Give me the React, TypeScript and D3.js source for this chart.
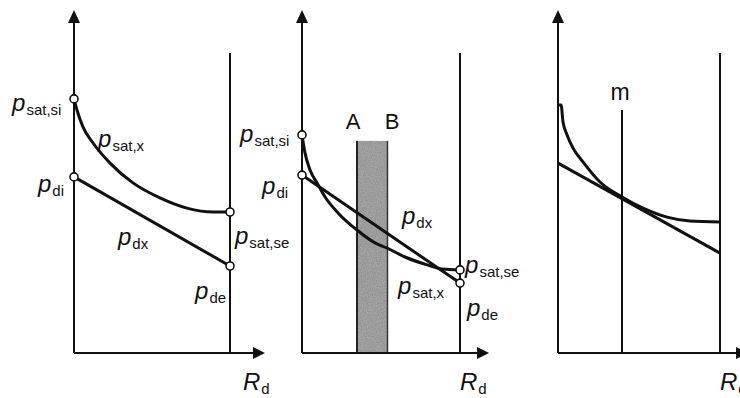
import React from 'react';
import * as d3 from 'd3';

const W = 740;
const H = 398;
const FONT = '"Liberation Sans", Arial, sans-serif';

// shared vertical scale: p (relative units)
const P_DOMAIN = [0, 100];
const Y_RANGE = [353, 53];
const AXIS_TOP = 114.3; // arrow tip of p axis (units)

// ---------- Panel 1 ----------
const p1SatR = [0, 1.9, 5.8, 12.2, 23.1, 37.8, 55.1, 72.4, 89.1, 100];
const p1SatP = [84.7, 81, 75.3, 70, 63.3, 56.7, 51.7, 48.3, 47, 47];
const p1DxR = [0, 100];
const p1DxP = [58.7, 29];
const p1Circles = [[0, 84.7], [0, 58.7], [100, 47], [100, 29]];
const p1Labels = [
  { main: 'p', sub: 'sat,si', r: -39.7, p: 80.7 },
  { main: 'p', sub: 'sat,x', r: 15.4, p: 68.7 },
  { main: 'p', sub: 'di', r: -23.1, p: 53.7 },
  { main: 'p', sub: 'dx', r: 28.2, p: 36 },
  { main: 'p', sub: 'sat,se', r: 103.2, p: 36.3 },
  { main: 'p', sub: 'de', r: 77.6, p: 18 },
  { main: 'R', sub: 'd', r: 108.3, p: -12.3 },
];

// ---------- Panel 2 ----------
const p2SatR = [0, 1.9, 5.1, 9.5, 14.6, 22.8, 34.8, 46.2, 53.8, 65.2, 79.7, 88.6, 100];
const p2SatP = [72.7, 66.7, 61, 56.7, 52, 46.7, 41, 36.7, 35, 32, 29.3, 28, 27.7];
const p2DxR = [0, 100];
const p2DxP = [59.3, 23.3];
const p2Circles = [[0, 72.7], [0, 59.3], [100, 27.7], [100, 23.3]];
const p2Band = { a: 34.8, b: 54.1, top: 70.7 };
const p2Labels = [
  { main: 'p', sub: 'sat,si', r: -39.2, p: 70.3 },
  { main: 'p', sub: 'di', r: -25.3, p: 53 },
  { main: 'p', sub: 'dx', r: 63.3, p: 43 },
  { main: 'p', sub: 'sat,se', r: 103.2, p: 26.7 },
  { main: 'p', sub: 'sat,x', r: 60.8, p: 19.7 },
  { main: 'p', sub: 'de', r: 104.4, p: 12.3 },
  { main: 'R', sub: 'd', r: 100, p: -12.3 },
];
const p2Letters = [
  { t: 'A', r: 32.3, p: 74.7 },
  { t: 'B', r: 57, p: 74.7 },
];

// ---------- Panel 3 ----------
const p3SatR = [0, 1.9, 3.1, 5.6, 9.3, 15.4, 25.9, 39.5, 52.5, 67.3, 81.5, 100];
const p3SatP = [82.7, 82.7, 77, 72.7, 68.3, 63.7, 57, 52, 48.3, 45.3, 44, 43.7];
const p3DxR = [0, 100];
const p3DxP = [63.3, 33.3];
const p3M = { r: 39.5, top: 81 };
const p3Labels = [{ main: 'R', sub: 'd', r: 100, p: -12.3 }];

const panels = [
  { x0: 74, x1: 230, tip: 122.4, sat: [p1SatR, p1SatP], dx: [p1DxR, p1DxP], circles: p1Circles, labels: p1Labels },
  { x0: 302, x1: 460, tip: 118.4, sat: [p2SatR, p2SatP], dx: [p2DxR, p2DxP], circles: p2Circles, labels: p2Labels, band: p2Band, letters: p2Letters },
  { x0: 558, x1: 720, tip: 117.3, sat: [p3SatR, p3SatP], dx: [p3DxR, p3DxP], circles: [], labels: p3Labels, m: p3M },
];

const y = d3.scaleLinear().domain(P_DOMAIN).range(Y_RANGE);

function Panel({ cfg }: { cfg: any }) {
  const x = d3.scaleLinear().domain([0, 100]).range([cfg.x0, cfg.x1]);
  const line = d3
    .line<[number, number]>()
    .x((d) => x(d[0]))
    .y((d) => y(d[1]))
    .curve(d3.curveMonotoneX);
  const satPts: [number, number][] = cfg.sat[0].map((r: number, i: number) => [r, cfg.sat[1][i]]);
  const dxPts: [number, number][] = cfg.dx[0].map((r: number, i: number) => [r, cfg.dx[1][i]]);
  const ax = x(0);
  const by = y(0);
  const tipY = y(AXIS_TOP);
  const tipX = x(cfg.tip);
  return (
    <g>
      {cfg.band && (
        <g>
          <rect
            x={x(cfg.band.a)}
            y={y(cfg.band.top)}
            width={x(cfg.band.b) - x(cfg.band.a)}
            height={by - y(cfg.band.top)}
            fill="#939393"
            filter="url(#grain)"
          />
          <line x1={x(cfg.band.a)} x2={x(cfg.band.a)} y1={y(cfg.band.top)} y2={by} stroke="#222" strokeWidth={2} />
          <line x1={x(cfg.band.b)} x2={x(cfg.band.b)} y1={y(cfg.band.top)} y2={by} stroke="#333" strokeWidth={1.5} />
        </g>
      )}
      {/* axes */}
      <line x1={ax} x2={ax} y1={by} y2={tipY + 12} stroke="#111" strokeWidth={2} />
      <path d={`M${ax},${tipY} L${ax - 6},${tipY + 13} L${ax + 6},${tipY + 13} Z`} fill="#111" />
      <line x1={ax} x2={tipX - 10} y1={by} y2={by} stroke="#111" strokeWidth={2} />
      <path d={`M${tipX},${by} L${tipX - 12},${by - 6} L${tipX - 12},${by + 6} Z`} fill="#111" />
      {/* right boundary */}
      <line x1={x(100)} x2={x(100)} y1={y(100)} y2={by} stroke="#111" strokeWidth={2} />
      {cfg.m && <line x1={x(cfg.m.r)} x2={x(cfg.m.r)} y1={y(cfg.m.top)} y2={by} stroke="#111" strokeWidth={2} />}
      {cfg.m && (
        <text x={x(cfg.m.r) - 2} y={y(84.3)} textAnchor="middle" fontFamily={FONT} fontSize={23} fill="#111">
          m
        </text>
      )}
      {/* curves */}
      <path d={line(satPts) || ''} fill="none" stroke="#111" strokeWidth={3} />
      <path d={line(dxPts) || ''} fill="none" stroke="#111" strokeWidth={3} />
      {cfg.circles.map((c: number[], i: number) => (
        <circle key={i} cx={x(c[0])} cy={y(c[1])} r={4} fill="#fff" stroke="#111" strokeWidth={1.6} />
      ))}
      {cfg.labels.map((l: any, i: number) => (
        <text key={i} x={x(l.r)} y={y(l.p)} fontFamily={FONT} fill="#111">
          <tspan fontSize={24} fontStyle="italic">
            {l.main}
          </tspan>
          <tspan fontSize={15} dy={4} dx={1}>
            {l.sub}
          </tspan>
        </text>
      ))}
      {cfg.letters &&
        cfg.letters.map((l: any, i: number) => (
          <text key={i} x={x(l.r)} y={y(l.p)} textAnchor="middle" fontFamily={FONT} fontSize={22} fill="#111">
            {l.t}
          </text>
        ))}
    </g>
  );
}

export default function App() {
  return (
    <svg width={W} height={H} style={{ position: 'absolute', left: 0, top: 0, background: '#fff' }}>
      <defs>
        <filter id="grain" x="0" y="0" width="100%" height="100%">
          <feTurbulence type="fractalNoise" baseFrequency="0.8" numOctaves={2} seed={3} result="n" />
          <feColorMatrix in="n" type="matrix" values="0 0 0 0 0.45  0 0 0 0 0.45  0 0 0 0 0.45  0 0 0 1.2 -0.35" result="g" />
          <feComposite in="g" in2="SourceGraphic" operator="atop" />
        </filter>
      </defs>
      <rect width={W} height={H} fill="#fff" />
      {panels.map((p, i) => (
        <Panel key={i} cfg={p} />
      ))}
    </svg>
  );
}
